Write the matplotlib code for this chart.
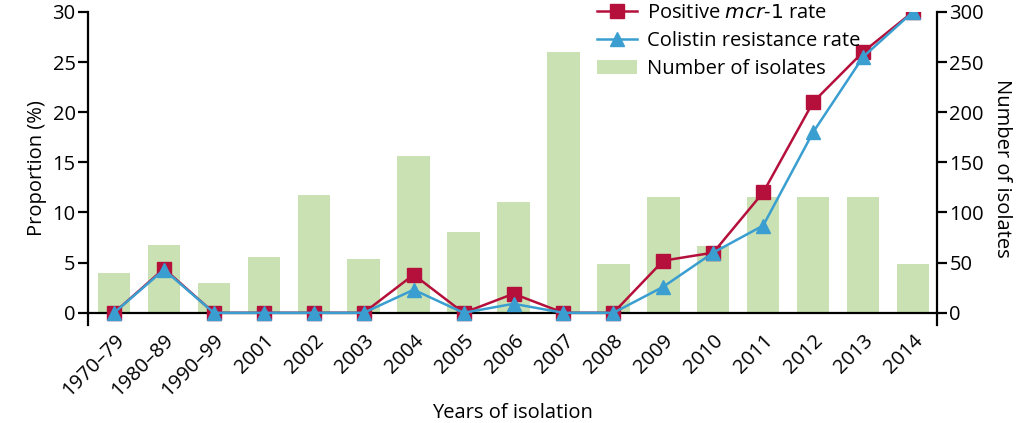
import matplotlib.pyplot as plt
import numpy as np

years = ["1970–79", "1980–89", "1990–99", "2001", "2002", "2003", "2004", "2005",
         "2006", "2007", "2008", "2009", "2010", "2011", "2012", "2013", "2014"]
isolates = [40, 68, 30, 56, 117, 54, 156, 81, 110, 260, 49, 115, 67, 115, 115, 115, 49]
mcr1_rate = [0, 4.4, 0, 0, 0, 0, 3.8, 0, 1.9, 0, 0, 5.2, 6.0, 12.0, 21.0, 26.0, 30.0]
colistin_rate = [0, 4.3, 0, 0, 0, 0, 2.3, 0, 0.9, 0, 0, 2.6, 6.0, 8.7, 18.0, 25.5, 30.0]

red = "#b5103c"
blue = "#3a9fd0"
green = "#c9e1b3"
fs = 14.5

plt.rcParams['font.family'] = ['Open Sans', 'DejaVu Sans']

fig = plt.figure(figsize=(10.24, 4.23), dpi=100)
ax = fig.add_axes([0.086, 0.232, 0.829, 0.740])
ax2 = ax.twinx()

x = np.arange(len(years))

# bars go on the right axis, lines on the left one drawn above
ax2.bar(x, isolates, width=0.65, color=green, label="Number of isolates", zorder=1)
ax.set_zorder(ax2.get_zorder() + 1)
ax.patch.set_visible(False)

ax.axhline(0, color="black", lw=1.6, zorder=2, clip_on=False)
l1, = ax.plot(x, mcr1_rate, color=red, marker="s", ms=10, lw=1.8, zorder=3,
              label="Positive $\\it{mcr}$-$\\it{1}$ rate")
l2, = ax.plot(x, colistin_rate, color=blue, marker="^", ms=10, lw=1.8, zorder=4,
              label="Colistin resistance rate")

ax.set_xlim(-0.52, 16.48)
ax.set_ylim(-1.2, 30)
ax2.set_ylim(-12, 300)
ax.set_yticks([0, 5, 10, 15, 20, 25, 30])
ax2.set_yticks([0, 50, 100, 150, 200, 250, 300])

ax.set_xticks(x)
ax.set_xticklabels(years, rotation=45, ha="right", rotation_mode="anchor")

for a in (ax, ax2):
    a.spines["top"].set_visible(False)
    a.spines["bottom"].set_visible(False)
    a.spines["left"].set_linewidth(1.6)
    a.spines["right"].set_linewidth(1.6)
    a.tick_params(axis="y", labelsize=fs, width=1.6, length=7, pad=2)
ax2.spines["left"].set_visible(False)
ax.spines["right"].set_visible(False)
ax.tick_params(axis="x", length=0, labelsize=fs, pad=4)

ax.set_ylabel("Proportion (%)", fontsize=fs, labelpad=4)
ax2.set_ylabel("Number of isolates", fontsize=fs, rotation=270, labelpad=20)
ax.set_xlabel("Years of isolation", fontsize=fs, labelpad=2)

bars_handle = ax2.patches[0]
ax.legend([l1, l2, bars_handle], [l1.get_label(), l2.get_label(), "Number of isolates"],
          loc="upper left", bbox_to_anchor=(0.59, 1.055), frameon=False, fontsize=fs,
          handlelength=2.0, labelspacing=0.4, handletextpad=0.5, borderaxespad=0)

fig.savefig("out.png", dpi=100)
